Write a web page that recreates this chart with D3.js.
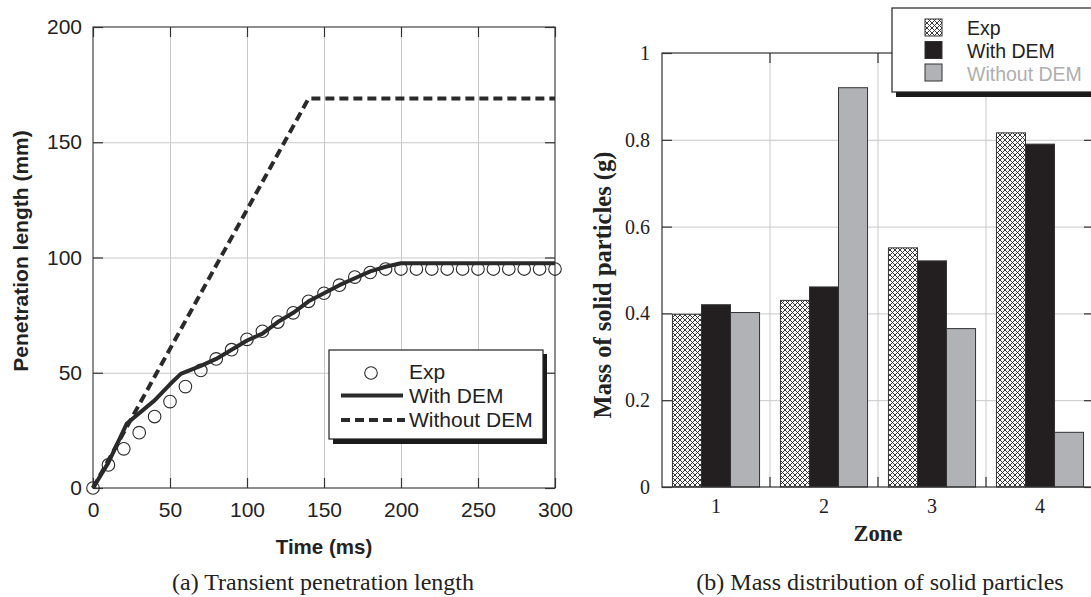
<!DOCTYPE html>
<html>
<head>
<meta charset="utf-8">
<script src="https://cdn.jsdelivr.net/npm/d3@7"></script>
<style>
  body { margin: 0; background: #fff; }
  svg { display: block; }
  .sans { font-family: "Liberation Sans", Arial, sans-serif; }
  .serif { font-family: "Liberation Serif", "Times New Roman", serif; }
</style>
</head>
<body>
<script>
// ---- data (a): penetration length ----
const expTime = [0,10,20,30,40,50,60,70,80,90,100,110,120,130,140,150,160,170,180,190,200,210,220,230,240,250,260,270,280,290,300];
const expLen  = [0,10,17,24,31,37.5,44,51,56,60,64.5,68,72,76,81,84.5,88,91.5,93.5,95,95,95,95,95,95,95,95,95,95,95,95];
const demTime = [0,10,22,40,50,57,70,80,90,100,110,120,130,140,150,160,170,180,190,200,300];
const demLen  = [0,11,28,38,45,49.5,53,56,60,64,67,72,76,81,84.5,88,91,94,96,97.5,97.5];
const noDemTime = [0,140,300];
const noDemLen  = [0,169,169];

// ---- data (b): mass distribution ----
const zones = ["1","2","3","4"];
const seriesNames = ["Exp","With DEM","Without DEM"];
const massExp   = [0.398,0.43,0.551,0.816];
const massDem   = [0.42,0.461,0.521,0.79];
const massNoDem = [0.402,0.92,0.365,0.126];

const W = 1091, H = 597;
const ink = "#2a2a2a", gridCol = "#c9c9c9";

const svg = d3.select("body").append("svg").attr("width", W).attr("height", H);

const defs = svg.append("defs");
const pat = defs.append("pattern").attr("id","hatch").attr("patternUnits","userSpaceOnUse")
  .attr("width",5).attr("height",5);
pat.append("rect").attr("width",5).attr("height",5).attr("fill","#fff");
pat.append("path").attr("d","M0,0L5,5M5,0L0,5").attr("stroke","#222").attr("stroke-width",0.9);

// =================== chart (a) ===================
{
  const L = 93, R = 555, T = 27, B = 488;
  const x = d3.scaleLinear().domain([0,300]).range([L,R]);
  const y = d3.scaleLinear().domain([0,200]).range([B,T]);
  const g = svg.append("g").attr("class","sans");

  // grid
  g.append("g").attr("transform",`translate(0,${B})`)
    .call(d3.axisBottom(x).tickValues([50,100,150,200,250]).tickSize(-(B-T)).tickFormat(""))
    .call(a => { a.select(".domain").remove(); a.selectAll("line").attr("stroke",gridCol); });
  g.append("g").attr("transform",`translate(${L},0)`)
    .call(d3.axisLeft(y).tickValues([50,100,150]).tickSize(-(R-L)).tickFormat(""))
    .call(a => { a.select(".domain").remove(); a.selectAll("line").attr("stroke",gridCol); });

  // frame
  g.append("rect").attr("x",L).attr("y",T).attr("width",R-L).attr("height",B-T)
    .attr("fill","none").attr("stroke","#444").attr("stroke-width",1.2);

  // axes with inward ticks
  const styleAxis = a => {
    a.select(".domain").remove();
    a.selectAll("line").attr("stroke","#333").attr("stroke-width",1.2);
    a.selectAll("text").attr("fill","#222").style("font-size","21px").style("font-family","Liberation Sans, Arial, sans-serif");
  };
  g.append("g").attr("transform",`translate(0,${B})`)
    .call(d3.axisBottom(x).ticks(6).tickSize(-10).tickPadding(14)).call(styleAxis);
  g.append("g").attr("transform",`translate(0,${T})`)
    .call(d3.axisTop(x).ticks(6).tickSize(-10).tickFormat("")).call(styleAxis);
  g.append("g").attr("transform",`translate(${L},0)`)
    .call(d3.axisLeft(y).ticks(4).tickSize(-10).tickPadding(11)).call(styleAxis);
  g.append("g").attr("transform",`translate(${R},0)`)
    .call(d3.axisRight(y).ticks(4).tickSize(-10).tickFormat("")).call(styleAxis);

  // lines
  const line = d3.line().x(d => x(d[0])).y(d => y(d[1]));
  g.append("path").datum(d3.zip(noDemTime,noDemLen)).attr("d",line)
    .attr("fill","none").attr("stroke",ink).attr("stroke-width",4).attr("stroke-dasharray","9,5");
  g.append("path").datum(d3.zip(demTime,demLen)).attr("d",line)
    .attr("fill","none").attr("stroke",ink).attr("stroke-width",4).attr("stroke-linejoin","round");
  g.append("g").selectAll("circle").data(d3.zip(expTime,expLen)).join("circle")
    .attr("cx",d => x(d[0])).attr("cy",d => y(d[1])).attr("r",6.3)
    .attr("fill","none").attr("stroke",ink).attr("stroke-width",1.1);

  // labels
  g.append("text").attr("x",(L+R)/2).attr("y",554).attr("text-anchor","middle")
    .style("font-size","20.5px").style("font-weight","bold").attr("fill","#222").text("Time (ms)");
  g.append("text").attr("transform",`translate(28,251) rotate(-90)`).attr("text-anchor","middle")
    .style("font-size","21px").style("font-weight","bold").attr("fill","#222").text("Penetration length (mm)");
  svg.append("text").attr("class","serif").attr("x",323).attr("y",590).attr("text-anchor","middle")
    .style("font-size","24px").attr("fill","#222").text("(a) Transient penetration length");

  // legend
  const lg = g.append("g").attr("transform","translate(329,350)");
  lg.append("rect").attr("x",4).attr("y",4).attr("width",214).attr("height",90).attr("fill","#1a1a1a");
  lg.append("rect").attr("width",214).attr("height",89).attr("fill","#fff").attr("stroke","#222").attr("stroke-width",1.2);
  lg.append("circle").attr("cx",42).attr("cy",23).attr("r",6.3).attr("fill","none").attr("stroke",ink).attr("stroke-width",1.1);
  lg.append("line").attr("x1",12).attr("x2",74).attr("y1",45.5).attr("y2",45.5).attr("stroke",ink).attr("stroke-width",4);
  lg.append("line").attr("x1",12).attr("x2",76).attr("y1",70).attr("y2",70).attr("stroke",ink).attr("stroke-width",4).attr("stroke-dasharray","9,5");
  lg.selectAll("text.leg").data(seriesNames).join("text").attr("class","leg")
    .attr("x",80).attr("y",(d,i) => 29 + i*24).style("font-size","21px").attr("fill","#222").text(d => d);
}

// =================== chart (b) ===================
{
  const L = 662, R = 1094, T = 53, B = 487;
  const x = d3.scaleBand().domain(zones).range([L,R]);
  const xs = d3.scaleBand().domain(seriesNames).range([0,x.bandwidth()]).paddingOuter(0.36);
  const y = d3.scaleLinear().domain([0,1]).range([B,T]);
  const g = svg.append("g").attr("class","serif");
  const bounds = zones.slice(1).map(z => x(z));

  // grid
  g.append("g").selectAll("line.vg").data(bounds).join("line")
    .attr("x1",d => d).attr("x2",d => d).attr("y1",T).attr("y2",B).attr("stroke",gridCol);
  g.append("g").attr("transform",`translate(${L},0)`)
    .call(d3.axisLeft(y).tickValues([0.2,0.4,0.6,0.8]).tickSize(-(R-L)).tickFormat(""))
    .call(a => { a.select(".domain").remove(); a.selectAll("line").attr("stroke",gridCol); });

  // bars
  const seriesVals = [massExp, massDem, massNoDem];
  const fills = ["url(#hatch)", "#231f20", "#b1b2b6"];
  seriesNames.forEach((s,si) => {
    g.append("g").selectAll("rect").data(zones.map((z,i) => ({z, v: seriesVals[si][i]}))).join("rect")
      .attr("x",d => x(d.z) + xs(s)).attr("width",xs.bandwidth())
      .attr("y",d => y(d.v)).attr("height",d => B - y(d.v))
      .attr("fill",fills[si]).attr("stroke","#333").attr("stroke-width",1);
  });

  // frame
  g.append("rect").attr("x",L).attr("y",T).attr("width",R-L).attr("height",B-T)
    .attr("fill","none").attr("stroke","#333").attr("stroke-width",1.2);

  const styleAxis = a => {
    a.select(".domain").remove();
    a.selectAll("line").attr("stroke","#333").attr("stroke-width",1.2);
    a.selectAll("text").attr("fill","#222").style("font-size","20px").style("font-family","Liberation Serif, Times New Roman, serif");
  };
  g.append("g").attr("transform",`translate(${L},0)`)
    .call(d3.axisLeft(y).ticks(5).tickSize(-10).tickPadding(12).tickFormat(d => String(+d.toFixed(1)))).call(styleAxis);
  g.append("g").attr("transform",`translate(${R},0)`)
    .call(d3.axisRight(y).ticks(5).tickSize(-10).tickFormat("")).call(styleAxis);
  g.append("g").attr("transform",`translate(0,${B})`)
    .call(d3.axisBottom(x).tickSize(0).tickPadding(12)).call(styleAxis);
  // boundary ticks top & bottom
  g.append("g").selectAll("line.bt").data(bounds).join("line")
    .attr("x1",d => d).attr("x2",d => d).attr("y1",B).attr("y2",B-10).attr("stroke","#333").attr("stroke-width",1.2);
  g.append("g").selectAll("line.tt").data(bounds).join("line")
    .attr("x1",d => d).attr("x2",d => d).attr("y1",T).attr("y2",T+10).attr("stroke","#333").attr("stroke-width",1.2);

  g.append("text").attr("x",(L+R)/2).attr("y",541).attr("text-anchor","middle")
    .style("font-size","22.5px").style("font-weight","bold").attr("fill","#222").text("Zone");
  g.append("text").attr("transform",`translate(611,285) rotate(-90)`).attr("text-anchor","middle")
    .style("font-size","24.5px").style("font-weight","bold").attr("fill","#222").text("Mass of solid particles (g)");
  g.append("text").attr("x",880).attr("y",590).attr("text-anchor","middle")
    .style("font-size","24px").attr("fill","#222").text("(b) Mass distribution of solid particles");

  // legend
  const lg = svg.append("g").attr("class","sans").attr("transform","translate(892,8)");
  lg.append("rect").attr("x",4).attr("y",4).attr("width",220).attr("height",85).attr("fill","#1a1a1a");
  lg.append("rect").attr("width",220).attr("height",84).attr("fill","#fff").attr("stroke","#222").attr("stroke-width",1.2);
  const legCols = ["#222","#222","#aeaeae"];
  seriesNames.forEach((s,i) => {
    lg.append("rect").attr("x",33).attr("y",11 + i*22.5).attr("width",17).attr("height",17)
      .attr("fill",fills[i]).attr("stroke","#333").attr("stroke-width",1);
    lg.append("text").attr("x",75).attr("y",27 + i*23).style("font-size","19.5px").attr("fill",legCols[i]).text(s);
  });
}
</script>
</body>
</html>
